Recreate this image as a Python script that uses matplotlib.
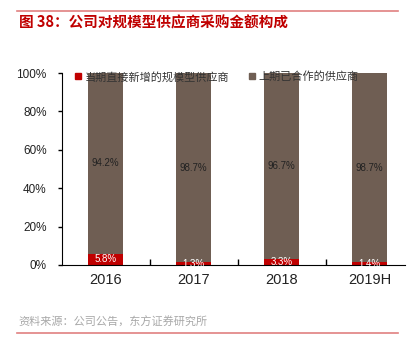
import matplotlib
matplotlib.use("Agg")
import matplotlib.pyplot as plt
from matplotlib.lines import Line2D
from matplotlib.ticker import PercentFormatter

plt.rcParams['font.family'] = ['Noto Sans CJK SC', 'DejaVu Sans']

# 数据
years = ["2016", "2017", "2018", "2019H"]
new_suppliers = [5.8, 1.3, 3.3, 1.4]
old_suppliers = [94.2, 98.7, 96.7, 98.7]
old_labels = ["94.2%", "98.7%", "96.7%", "98.7%"]
new_labels = ["5.8%", "1.3%", "3.3%", "1.4%"]

red = "#C00000"
brown = "#6F5E53"

fig = plt.figure(figsize=(4.11, 3.58), dpi=100)
ax = fig.add_axes([0.151, 0.26, 0.834, 0.536])

x = list(range(len(years)))
ax.bar(x, new_suppliers, width=0.4, color=red, label="当期直接新增的规模型供应商")
ax.bar(x, old_suppliers, width=0.4, bottom=new_suppliers, color=brown,
       label="上期已合作的供应商")

# 数据标签
for i in x:
    ax.text(i, new_suppliers[i] / 2, new_labels[i], ha="center", va="center",
            color="white", fontsize=7, family=["Liberation Sans"])
    ax.text(i, new_suppliers[i] + old_suppliers[i] / 2, old_labels[i],
            ha="center", va="center", color="#222222", fontsize=7,
            family=["Liberation Sans"])

ax.set_xlim(-0.494, 3.4)
ax.set_ylim(0, 100)
ax.set_yticks([0, 20, 40, 60, 80, 100])
ax.yaxis.set_major_formatter(PercentFormatter(decimals=0))
ax.set_xticks(x)
ax.set_xticklabels(years)
for lab in ax.get_xticklabels():
    lab.set_family(["Liberation Sans"])
    lab.set_fontsize(10.5)
    lab.set_color("#222222")
for lab in ax.get_yticklabels():
    lab.set_family(["Liberation Sans"])
    lab.set_fontsize(8.5)
    lab.set_color("#222222")

# x 轴刻度放在类别之间
ax.set_xticks([0.5, 1.5, 2.5], minor=True)
ax.tick_params(axis="x", which="major", length=0, pad=6)
ax.tick_params(axis="x", which="minor", direction="in", length=4, width=1)
ax.tick_params(axis="y", direction="out", length=3, width=1, pad=8)
ax.spines["top"].set_visible(False)
ax.spines["right"].set_visible(False)

handles = [Line2D([], [], marker="s", linestyle="", color=red, markersize=5),
           Line2D([], [], marker="s", linestyle="", color=brown, markersize=5)]
ax.legend(handles, ["当期直接新增的规模型供应商", "上期已合作的供应商"],
          loc="upper left", bbox_to_anchor=(0.0, 1.06), ncol=2, frameon=False,
          fontsize=8, handletextpad=0.1, columnspacing=1.6, handlelength=1.0,
          labelcolor="#333333")

# 标题与来源
fig.add_artist(Line2D([0.041, 0.968], [1 - 11 / 358, 1 - 11 / 358], color="#E08080", lw=1.2))
fig.text(0.046, 1 - 22 / 358, "图 38：公司对规模型供应商采购金额构成", color=red,
         fontsize=10.5, fontweight="bold", va="center")
fig.text(0.046, 1 - 322 / 358, "资料来源：公司公告，东方证券研究所", color="#A8A8A8",
         fontsize=8, va="center")
fig.add_artist(Line2D([0.041, 0.968], [1 - 333 / 358, 1 - 333 / 358], color="#E08080", lw=1.2))

fig.savefig("out.png", dpi=100)
